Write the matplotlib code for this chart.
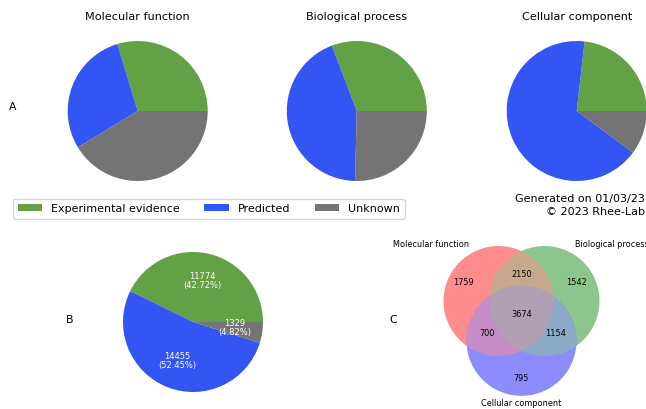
import numpy as np
import matplotlib
matplotlib.use("Agg")
import matplotlib.pyplot as plt
from matplotlib.patches import Patch, Polygon

# ---------------- data ----------------
categories = ["Experimental evidence", "Predicted", "Unknown"]
aspect_titles = ["Molecular function", "Biological process", "Cellular component"]
mf_values = [29.7, 29.0, 41.3]
bp_values = [30.8, 43.8, 25.4]
cc_values = [23.2, 66.7, 10.1]
overall_counts = [11774, 14455, 1329]
venn_sets = ["Molecular function", "Biological process", "Cellular component"]
venn_region_keys = ["100", "110", "010", "111", "101", "011", "001"]
venn_region_counts = [1759, 2150, 1542, 3674, 700, 1154, 795]
footer_lines = ["Generated on 01/03/23", "\u00a9 2023 Rhee-Lab"]

# ---------------- style ----------------
pie_colors = ["#62a146", "#3355f4", "#747474"]
W, H = 646, 409
fig = plt.figure(figsize=(W / 100, H / 100), dpi=100)


def px_axes(cx, cy, half):
    return fig.add_axes([(cx - half) / W, 1 - (cy + half) / H, 2 * half / W, 2 * half / H])


def fx(x):
    return x / W


def fy(y):
    return 1 - y / H


# ---- Panel A: three pies ----
top_centers = [137.7, 356.8, 576.7]
for cx, title, vals in zip(top_centers, aspect_titles, [mf_values, bp_values, cc_values]):
    ax = px_axes(cx, 111, 70)
    ax.pie(vals, colors=pie_colors, startangle=0, counterclock=True, radius=1)
    ax.set_xlim(-1, 1)
    ax.set_ylim(-1, 1)
    ax.set_aspect("equal")
    ax.axis("off")
    fig.text(fx(cx), fy(16.7), title, ha="center", va="center", fontsize=8.1)

fig.text(fx(12.7), fy(106.7), "A", ha="center", va="center", fontsize=7.8)

# legend
handles = [Patch(facecolor=c, label=l) for c, l in zip(pie_colors, categories)]
fig.legend(handles=handles, loc="upper left", bbox_to_anchor=(fx(12.7), fy(198.5)),
           ncol=3, fontsize=8.0, frameon=True, borderaxespad=0,
           handlelength=2.2, handleheight=0.6, columnspacing=2.2, borderpad=0.45)

# footer
fig.text(fx(645), fy(199.3), footer_lines[0], ha="right", va="center", fontsize=8.0)
fig.text(fx(645), fy(212.3), footer_lines[1], ha="right", va="center", fontsize=8.0)

# ---- Panel B: overall pie ----
total = sum(overall_counts)
axb = px_axes(193, 322, 70)
wedges, texts, autotexts = axb.pie(
    overall_counts, colors=pie_colors, startangle=0, counterclock=True, radius=1,
    autopct=lambda p: f"{int(round(p * total / 100))}\n({p:.2f}%)", pctdistance=0.6,
    textprops=dict(color="white", fontsize=6.0))
for t in autotexts:
    t.set_linespacing(1.0)
axb.set_xlim(-1, 1)
axb.set_ylim(-1, 1)
axb.set_aspect("equal")
axb.axis("off")
fig.text(fx(70), fy(320), "B", ha="center", va="center", fontsize=7.8)

# ---- Panel C: Venn diagram (equal-size circles) ----
axv = px_axes(521.5, 314.3, 110)  # 55 px per data unit
axv.set_xlim(-2, 2)
axv.set_ylim(-2, 2)
axv.set_aspect("equal")
axv.axis("off")

R = 1.0
side = 0.836
circ_r = side / np.sqrt(3)
angles = np.deg2rad([150, 30, 270])
centers = [np.array([circ_r * np.cos(a), circ_r * np.sin(a)]) for a in angles]
t = np.linspace(0, 2 * np.pi, 400, endpoint=False)


def circle_poly(c):
    return np.column_stack([c[0] + R * np.cos(t), c[1] + R * np.sin(t)])


def clip_convex(subject, clipper):
    out = subject
    n = len(clipper)
    for i in range(n):
        a, b = clipper[i], clipper[(i + 1) % n]
        inp = out
        out = []
        if len(inp) == 0:
            break

        def inside(p):
            return (b[0] - a[0]) * (p[1] - a[1]) - (b[1] - a[1]) * (p[0] - a[0]) >= 0

        def inter(p, q):
            d1 = np.array(q) - np.array(p)
            d2 = b - a
            den = d1[0] * d2[1] - d1[1] * d2[0]
            s = ((a[0] - p[0]) * d2[1] - (a[1] - p[1]) * d2[0]) / den
            return np.array(p) + s * d1

        prev = inp[-1]
        for cur in inp:
            if inside(cur):
                if not inside(prev):
                    out.append(inter(prev, cur))
                out.append(cur)
            elif inside(prev):
                out.append(inter(prev, cur))
            prev = cur
    return np.array(out)


base = [np.array(matplotlib.colors.to_rgb(c)) for c in ["r", "g", "b"]]
alpha = 0.45


def mix(*cols):
    c = np.mean(cols, axis=0)
    return 1 - alpha * (1 - c)


polys = [circle_poly(c) for c in centers]
for i in range(3):
    axv.add_patch(Polygon(polys[i], closed=True, facecolor=mix(base[i]), edgecolor="none"))
for i, j in [(0, 1), (0, 2), (1, 2)]:
    pij = clip_convex(polys[i], polys[j])
    axv.add_patch(Polygon(pij, closed=True, facecolor=mix(base[i], base[j]), edgecolor="none"))
p012 = clip_convex(clip_convex(polys[0], polys[1]), polys[2])
axv.add_patch(Polygon(p012, closed=True, facecolor=mix(*base), edgecolor="none"))

region_pos = {"100": (-1.058, 0.575), "110": (0, 0.727), "010": (1.0, 0.575),
              "111": (0, 0), "101": (-0.633, -0.358), "011": (0.61, -0.358),
              "001": (0, -1.164)}
for key, cnt in zip(venn_region_keys, venn_region_counts):
    x, y = region_pos[key]
    axv.text(x, y, str(cnt), ha="center", va="center", fontsize=5.9)

set_label_pos = [(-1.636, 1.278), (1.645, 1.278), (0, -1.613)]
for (x, y), lab in zip(set_label_pos, venn_sets):
    axv.text(x, y, lab, ha="center", va="center", fontsize=5.9)

fig.text(fx(393.4), fy(320), "C", ha="center", va="center", fontsize=7.8)

fig.savefig("out.png", dpi=100)
